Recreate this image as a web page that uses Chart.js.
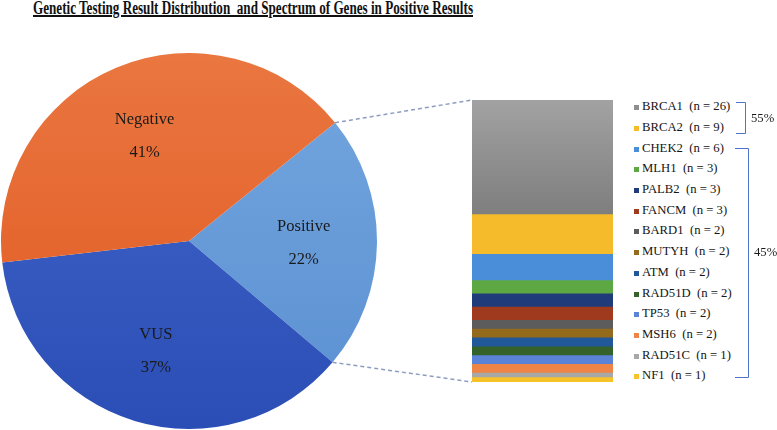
<!DOCTYPE html>
<html><head><meta charset="utf-8">
<script src="https://cdn.jsdelivr.net/npm/chart.js@4"></script>
<style>
html,body{margin:0;padding:0;background:#fff;width:777px;height:430px;overflow:hidden;font-family:"Liberation Serif","Times New Roman",serif;color:#1a1a1a;}
#title{position:absolute;left:33px;top:-2px;white-space:pre;font-weight:bold;font-size:18px;line-height:20px;text-decoration:underline;text-decoration-thickness:1.5px;text-underline-offset:1px;transform-origin:0 0;color:#111;}
#pieWrap{position:absolute;left:1px;top:53px;width:376px;height:376px;}
#barWrap{position:absolute;left:472px;top:100px;width:141px;height:282px;}
#overlay{position:absolute;left:0;top:0;pointer-events:none;}
.lg{position:absolute;left:634px;white-space:pre;font-size:12.7px;line-height:14px;height:14px;color:#151515;}
.lg i{display:inline-block;width:5px;height:5px;margin-right:3px;vertical-align:0px;}
</style></head>
<body>
<div id="title"></div>
<div id="pieWrap"><canvas id="pie" width="376" height="376"></canvas></div>
<div id="barWrap"><canvas id="bar" width="141" height="282"></canvas></div>
<div id="legend"></div>
<canvas id="overlay" width="777" height="430"></canvas>
<script>
const titleText = 'Genetic Testing Result Distribution  and Spectrum of Genes in Positive Results';
const resultLabels = ['Positive', 'VUS', 'Negative'];
const resultValues = [22, 37, 41];
const resultColorsTop = ['#74A7DF', '#4266CA', '#EA7640'];
const resultColorsBottom = ['#5A8FD1', '#2A4EB5', '#E05820'];
const genes = ['BRCA1','BRCA2','CHEK2','MLH1','PALB2','FANCM','BARD1','MUTYH','ATM','RAD51D','TP53','MSH6','RAD51C','NF1'];
const geneCounts = [26, 9, 6, 3, 3, 3, 2, 2, 2, 2, 2, 2, 1, 1];
const geneColors = ['#8F8F8F','#F5BB2A','#4A8ED9','#5EA843','#1F3B7A','#A03A1E','#5C5C5C','#946A1D','#20589A','#35622A','#5A82D6','#EE8446','#A8A8A8','#F7C329'];
const groupLabels = ['55%', '45%'];
const groupSizes = [2, 12];

document.getElementById('title').textContent = titleText;
(function(){
  const t = document.getElementById('title');
  const w = t.getBoundingClientRect().width;
  t.style.transform = 'scaleX(' + (440 / w) + ')';
})();

// Legend (HTML)
const rowTop = 106.7, rowStep = 20.7;
const legend = document.getElementById('legend');
genes.forEach((g, i) => {
  const d = document.createElement('div');
  d.className = 'lg';
  d.style.top = (rowTop + i * rowStep - 7.5) + 'px';
  const m = document.createElement('i');
  m.style.background = geneColors[i];
  d.appendChild(m);
  d.appendChild(document.createTextNode(g + '  (n = ' + geneCounts[i] + ')'));
  legend.appendChild(d);
});

// Pie
const pieLabelPlugin = {
  id: 'pieLabels',
  afterDatasetsDraw(chart) {
    const ctx = chart.ctx;
    const meta = chart.getDatasetMeta(0);
    const total = resultValues.reduce((a, b) => a + b, 0);
    ctx.save();
    ctx.fillStyle = '#1a1a1a';
    ctx.textAlign = 'center';
    ctx.textBaseline = 'middle';
    ctx.font = '16.5px "Liberation Serif", serif';
    meta.data.forEach((arc, i) => {
      const a = (arc.startAngle + arc.endAngle) / 2;
      const rr = arc.outerRadius * 0.61;
      const x = arc.x + Math.cos(a) * rr;
      const y = arc.y + Math.sin(a) * rr;
      ctx.fillText(resultLabels[i], x, y - 16);
      ctx.fillText(Math.round(resultValues[i] / total * 100) + '%', x, y + 17);
    });
    ctx.restore();
  }
};
function sliceGradient(ctx, i) {
  const c = ctx.chart;
  const area = c.chartArea;
  if (!area) return resultColorsBottom[i];
  const g = c.ctx.createLinearGradient(0, area.top, 0, area.bottom);
  g.addColorStop(0, resultColorsTop[i]);
  g.addColorStop(1, resultColorsBottom[i]);
  return g;
}
const pieChart = new Chart(document.getElementById('pie'), {
  type: 'pie',
  data: {
    labels: resultLabels,
    datasets: [{
      data: resultValues,
      backgroundColor: (ctx) => sliceGradient(ctx, ctx.dataIndex),
      borderWidth: 0
    }]
  },
  options: {
    responsive: false,
    animation: false,
    rotation: 51,
    layout: { padding: 0 },
    plugins: { legend: { display: false }, tooltip: { enabled: false }, title: { display: false } }
  },
  plugins: [pieLabelPlugin]
});

// Stacked bar
const geneTotal = geneCounts.reduce((a, b) => a + b, 0);
const barDatasets = genes.map((g, i) => ({
  label: g,
  data: [geneCounts[i]],
  backgroundColor: (ctx) => {
    if (i !== 0) return geneColors[i];
    const c = ctx.chart;
    if (!c.chartArea || !c.scales.y) return geneColors[i];
    const y0 = c.scales.y.getPixelForValue(geneTotal);
    const y1 = c.scales.y.getPixelForValue(geneTotal - geneCounts[0]);
    const gr = c.ctx.createLinearGradient(0, y0, 0, y1);
    gr.addColorStop(0, '#A2A2A2');
    gr.addColorStop(1, '#7E7E7E');
    return gr;
  },
  borderWidth: 0,
  barPercentage: 1,
  categoryPercentage: 1
})).reverse();
const barChart = new Chart(document.getElementById('bar'), {
  type: 'bar',
  data: { labels: [''], datasets: barDatasets },
  options: {
    responsive: false,
    animation: false,
    layout: { padding: 0 },
    scales: {
      x: { stacked: true, display: false },
      y: { stacked: true, display: false, min: 0, max: geneTotal }
    },
    plugins: { legend: { display: false }, tooltip: { enabled: false } }
  }
});

// Overlay: connectors and brackets
(function(){
  const ov = document.getElementById('overlay');
  const ctx = ov.getContext('2d');
  const pw = document.getElementById('pieWrap');
  const bw = document.getElementById('barWrap');
  const arc = pieChart.getDatasetMeta(0).data[0];
  const px = pw.offsetLeft + arc.x, py = pw.offsetTop + arc.y, r = arc.outerRadius;
  const p1 = [px + Math.cos(arc.startAngle) * r, py + Math.sin(arc.startAngle) * r];
  const p2 = [px + Math.cos(arc.endAngle) * r, py + Math.sin(arc.endAngle) * r];
  const ys = barChart.scales.y;
  const bx = bw.offsetLeft + barChart.chartArea.left;
  const bTop = bw.offsetTop + ys.getPixelForValue(geneTotal);
  const bBot = bw.offsetTop + ys.getPixelForValue(0);
  ctx.save();
  ctx.strokeStyle = '#8C9DC0';
  ctx.lineWidth = 1.5;
  ctx.setLineDash([4, 3]);
  ctx.beginPath();
  ctx.moveTo(p1[0], p1[1]); ctx.lineTo(bx, bTop);
  ctx.moveTo(p2[0], p2[1]); ctx.lineTo(bx, bBot);
  ctx.stroke();
  ctx.restore();

  // brackets
  ctx.save();
  ctx.strokeStyle = '#4D74C8';
  ctx.lineWidth = 1;
  ctx.fillStyle = '#1a1a1a';
  ctx.font = '12.7px "Liberation Serif", serif';
  ctx.textBaseline = 'middle';
  let start = 0;
  groupSizes.forEach((n, gi) => {
    const first = start, last = start + n - 1;
    let yT, yB, xL, xR;
    if (gi === 0) { yT = rowTop + first * rowStep - 4.5; yB = rowTop + last * rowStep + 5.5; xL = 736; xR = 745; }
    else { yT = rowTop + first * rowStep; yB = rowTop + last * rowStep + 1.5; xL = 735; xR = 748; }
    ctx.beginPath();
    ctx.moveTo(xL, Math.round(yT) + 0.5); ctx.lineTo(xR + 0.5, Math.round(yT) + 0.5);
    ctx.lineTo(xR + 0.5, Math.round(yB) + 0.5); ctx.lineTo(xL, Math.round(yB) + 0.5);
    ctx.stroke();
    const ty = gi === 0 ? (yT + yB) / 2 + 1 : 253;
    ctx.fillText(groupLabels[gi], xR + 6, ty);
    start += n;
  });
  ctx.restore();
})();
</script>
</body></html>
